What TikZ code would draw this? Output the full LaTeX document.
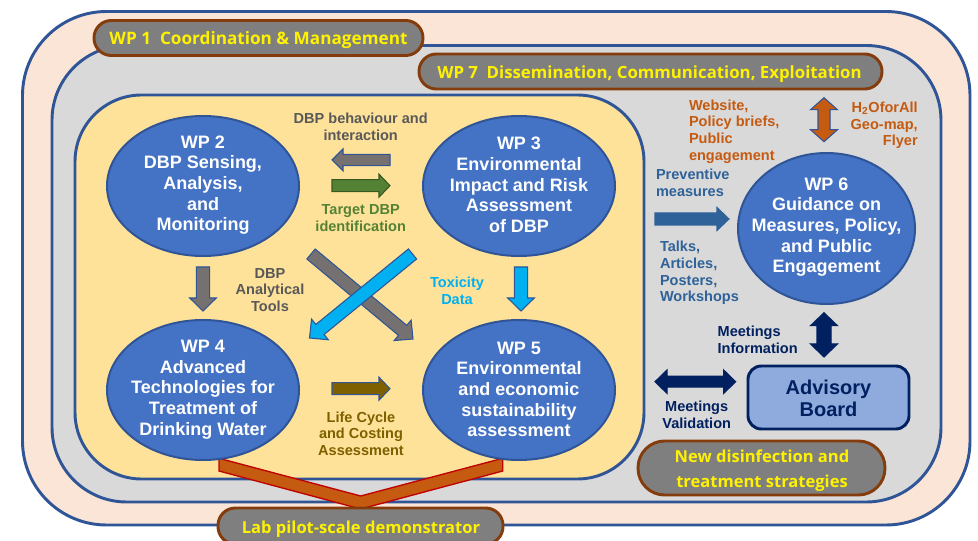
\documentclass[tikz,border=0pt]{standalone}
\usepackage{fontspec}
\setmainfont{Liberation Sans}
\newfontfamily\osans{Open Sans}
\usetikzlibrary{calc,shapes.geometric}
\definecolor{peach}{HTML}{FBE5D6}
\definecolor{edgeblue}{HTML}{2F5597}
\definecolor{panelgray}{HTML}{D9D9D9}
\definecolor{panelyellow}{HTML}{FFE299}
\definecolor{wpblue}{HTML}{4472C4}
\definecolor{pillgray}{HTML}{7F7F7F}
\definecolor{pillbrown}{HTML}{843C0C}
\definecolor{boardblue}{HTML}{8FAADC}
\definecolor{navy}{HTML}{002060}
\definecolor{rust}{HTML}{C55A11}
\definecolor{chevred}{HTML}{C00000}
\definecolor{leaf}{HTML}{548235}
\definecolor{leafdark}{HTML}{385723}
\definecolor{olive}{HTML}{7F6000}
\definecolor{sky}{HTML}{00B0F0}
\definecolor{arrowgray}{HTML}{767171}
\definecolor{textgray}{HTML}{595959}
\definecolor{steel}{HTML}{2F6299}
\def\u{0.75pt}
\newcommand\singlearrow[6]{%
  \coordinate (hb) at ($(#3)!#6*\u!(#2)$);
  \draw[#1] ($(#2)!#4*\u!90:(#3)$) -- ($(hb)!#4*\u!-90:(#2)$) -- ($(hb)!#5*\u!-90:(#2)$) -- (#3)
    -- ($(hb)!#5*\u!90:(#2)$) -- ($(hb)!#4*\u!90:(#2)$) -- ($(#2)!#4*\u!-90:(#3)$) -- cycle;}
\newcommand\doublearrow[6]{%
  \coordinate (hb) at ($(#3)!#6*\u!(#2)$);
  \coordinate (ha) at ($(#2)!#6*\u!(#3)$);
  \draw[#1] (#2) -- ($(ha)!#5*\u!90:(#3)$) -- ($(ha)!#4*\u!90:(#3)$) -- ($(hb)!#4*\u!-90:(#2)$) -- ($(hb)!#5*\u!-90:(#2)$) -- (#3)
    -- ($(hb)!#5*\u!90:(#2)$) -- ($(hb)!#4*\u!90:(#2)$) -- ($(ha)!#4*\u!-90:(#3)$) -- ($(ha)!#5*\u!-90:(#3)$) -- cycle;}
\tikzset{
  x=0.75pt,y=-0.75pt,
  panel/.style={draw=edgeblue,line width=2.2pt,inner sep=0pt,outer sep=0pt},
  wp/.style={ellipse,draw=edgeblue,line width=1.5pt,fill=wpblue,inner sep=0pt,outer sep=0pt},
  wptext/.style={text=white,inner sep=0pt,outer sep=0pt,align=center,font=\bfseries\fontsize{13.5}{15.5}\selectfont},
  pill/.style={rectangle,draw=pillbrown,line width=2.2pt,fill=pillgray,inner sep=0pt,outer sep=0pt},
  pilltext/.style={text=yellow,inner sep=0pt,outer sep=0pt,align=center,font=\osans\bfseries\fontsize{#1}{18.8}\selectfont},
  lab/.style={inner sep=0pt,outer sep=0pt,font=\bfseries\fontsize{10.9}{12.5}\selectfont},
  arr/.style={line width=0.8pt,line join=miter},
}
\begin{document}
\begin{tikzpicture}
\clip (0,0) rectangle (978,541);
\fill[white] (0,0) rectangle (978,541);
% containers
\node[panel,fill=peach,rounded corners=63pt,minimum width=947.5*\u,minimum height=513.5*\u] (outer) at (496.25,268.25) {};
\node[panel,fill=panelgray,rounded corners=56pt,minimum width=889*\u,minimum height=456.5*\u] (middle) at (496.5,273.75) {};
\node[panel,fill=panelyellow,rounded corners=50pt,minimum width=569*\u,minimum height=384*\u] (inner) at (359.5,287) {};
% chevron
\draw[fill=rust,draw=chevred,line width=1pt,line join=miter] (219,458.3) -- (219,471) -- (360.7,509) -- (502.7,471) -- (502.7,458.3) -- (360.7,496) -- cycle;
% pills
\node[pill,rounded corners=13pt,minimum width=329*\u,minimum height=35*\u] (wp1) at (258.5,38) {};
\node[pilltext=12.87] (wp1t) at (258.5,40) {WP 1\ \ Coordination \& Management};
\node[pill,rounded corners=13pt,minimum width=463*\u,minimum height=35*\u] (wp7) at (650.5,71.5) {};
\node[pilltext=12.6] (wp7t) at (649.5,74) {WP 7\ \ Dissemination, Communication, Exploitation};
\node[pill,rounded corners=13pt,minimum width=285*\u,minimum height=36*\u] (labp) at (360.5,526) {};
\node[pilltext=12.4] (labt) at (361,529) {Lab pilot-scale demonstrator};
\node[pill,rounded corners=20pt,minimum width=247*\u,minimum height=54*\u] (newd) at (761.5,468) {};
\node[pilltext=12.4] (newt) at (762,471) {New disinfection and\\treatment strategies};
% work packages
\node[wp,minimum width=192*\u,minimum height=140*\u] (wp2) at (203,186) {};
\node[wptext] (wp2t) at (203,185) {WP 2\\DBP Sensing,\\Analysis,\\and\\Monitoring};
\node[wp,minimum width=192*\u,minimum height=140*\u] (wp3) at (519,186) {};
\node[wptext] (wp3t) at (519,185) {WP 3\\Environmental\\Impact and Risk\\Assessment\\of DBP};
\node[wp,minimum width=192*\u,minimum height=140*\u] (wp4) at (203,390) {};
\node[wptext] (wp4t) at (203,389.5) {WP 4\\Advanced\\Technologies for\\Treatment of\\Drinking Water};
\node[wp,minimum width=192*\u,minimum height=140*\u] (wp5) at (519,390) {};
\node[wptext] (wp5t) at (519,389.5) {WP 5\\Environmental\\and economic\\sustainability\\assessment};
\node[wp,minimum width=177*\u,minimum height=151*\u] (wp6) at (826.5,228.5) {};
\node[wptext] (wp6t) at (826.5,227) {WP 6\\Guidance on\\Measures, Policy,\\and Public\\Engagement};
\node[draw=navy,line width=2.2pt,fill=boardblue,rounded corners=10pt,inner sep=0pt,outer sep=0pt,minimum width=161*\u,minimum height=63*\u] (board) at (828.5,397.5) {};
\node[text=navy,inner sep=0pt,outer sep=0pt,align=center,font=\bfseries\fontsize{15}{16.8}\selectfont] (boardt) at (828.5,398.5) {Advisory\\Board};
% arrow end points
\coordinate (a1s) at (390,160); \coordinate (a1e) at (332,160);
\coordinate (a2s) at (332,185.7); \coordinate (a2e) at (390,185.7);
\coordinate (a3s) at (203,267); \coordinate (a3e) at (203,311);
\coordinate (a4s) at (521,267); \coordinate (a4e) at (521,311);
\coordinate (a5s) at (332,388.7); \coordinate (a5e) at (390,388.7);
\coordinate (a6s) at (311,254); \coordinate (a6e) at (413,339);
\coordinate (a7s) at (412.5,254); \coordinate (a7e) at (309.5,338);
\coordinate (a8s) at (655,219); \coordinate (a8e) at (729,219);
\coordinate (a9s) at (824,97.7); \coordinate (a9e) at (824,141.7);
\coordinate (a10s) at (824,312.7); \coordinate (a10e) at (824,357);
\coordinate (a11s) at (655,381.7); \coordinate (a11e) at (735.7,381.7);
\singlearrow{arr,fill=arrowgray,draw=edgeblue}{a1s}{a1e}{5.7}{11}{11}
\singlearrow{arr,fill=leaf,draw=leafdark}{a2s}{a2e}{6}{11.5}{11}
\singlearrow{arr,fill=arrowgray,draw=edgeblue}{a3s}{a3e}{6.7}{13.3}{13}
\singlearrow{arr,fill=sky,draw=edgeblue}{a4s}{a4e}{6.7}{13.3}{13}
\singlearrow{arr,fill=olive,draw=edgeblue}{a5s}{a5e}{6}{11.5}{11}
\singlearrow{arr,fill=arrowgray,draw=edgeblue}{a6s}{a6e}{6.5}{13.3}{13.5}
\singlearrow{arr,fill=sky,draw=edgeblue}{a7s}{a7e}{6.5}{13.3}{13.5}
\singlearrow{arr,fill=steel,draw=steel}{a8s}{a8e}{6}{11.5}{12}
\doublearrow{arr,fill=rust,draw=edgeblue}{a9s}{a9e}{6}{13.5}{12}
\doublearrow{arr,fill=navy,draw=navy}{a10s}{a10e}{7}{13.5}{13}
\doublearrow{arr,fill=navy,draw=navy}{a11s}{a11e}{5.5}{11.7}{12}
% labels
\node[lab,text=textgray,align=center] (l1) at (360.7,126.5) {DBP behaviour and\\interaction};
\node[lab,text=leaf,align=center] (l2) at (360.7,218) {Target DBP\\identification};
\node[lab,text=textgray,align=center] (l3) at (270,290) {DBP\\Analytical\\Tools};
\node[lab,text=sky,align=center] (l4) at (457,290.5) {Toxicity\\Data};
\node[lab,text=olive,align=center] (l5) at (361,433.5) {Life Cycle\\and Costing\\Assessment};
\node[lab,text=rust,align=left,anchor=west] (l6) at (689,131.5) {Website,\\Policy briefs,\\Public\\engagement};
\node[lab,text=rust,align=right,anchor=east] (l7) at (917.7,125.5) {H\textsubscript{2}OforAll\\Geo-map,\\Flyer};
\node[lab,text=steel,align=left,anchor=west] (l8) at (656,183) {Preventive\\measures};
\node[lab,text=steel,align=left,anchor=west] (l9) at (660,273) {Talks,\\Articles,\\Posters,\\Workshops};
\node[lab,text=navy,align=left,anchor=west] (l10) at (717.7,339.5) {Meetings\\Information};
\node[lab,text=navy,align=center] (l11) at (696.7,415) {Meetings\\Validation};
\end{tikzpicture}
\end{document}
